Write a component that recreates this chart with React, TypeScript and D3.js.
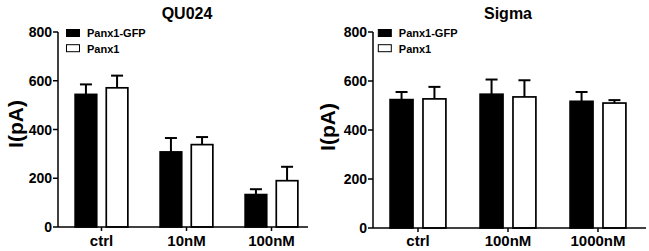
import React from "react";
import * as d3 from "d3";

const quCategories = ["ctrl", "10nM", "100nM"];
const quGfp = [544, 308, 133];
const quGfpErr = [41, 57, 22];
const quPanx = [571, 338, 190];
const quPanxErr = [50, 31, 57];

const sgCategories = ["ctrl", "100nM", "1000nM"];
const sgGfp = [524, 546, 517];
const sgGfpErr = [31, 60, 38];
const sgPanx = [527, 535, 510];
const sgPanxErr = [49, 68, 12];

const yTicks = [0, 200, 400, 600, 800];
const seriesNames = ["Panx1-GFP", "Panx1"];

const FONT = "'Liberation Sans', Arial, sans-serif";

type PanelProps = {
  title: string;
  cats: string[];
  gfp: number[];
  gfpErr: number[];
  panx: number[];
  panxErr: number[];
  axisX: number;
  axisEnd: number;
  bandRange: [number, number];
  y0: number;
  titleX: number;
  labelX: number;
  labelY: number;
  legendX: number;
  innerPad: number;
};

function Panel(p: PanelProps) {
  const y = d3.scaleLinear().domain([0, 800]).range([p.y0, 32]);
  const x0 = d3
    .scaleBand<string>()
    .domain(p.cats)
    .range(p.bandRange)
    .paddingInner(0.38)
    .paddingOuter(0.19);
  const x1 = d3
    .scaleBand<string>()
    .domain(seriesNames)
    .range([0, x0.bandwidth()])
    .paddingInner(p.innerPad)
    .paddingOuter(0);
  const bw = x1.bandwidth();
  const capHalf = 6;
  const series = [
    { name: seriesNames[0], vals: p.gfp, errs: p.gfpErr, fill: "#000" },
    { name: seriesNames[1], vals: p.panx, errs: p.panxErr, fill: "#fff" },
  ];
  return (
    <g>
      <text
        x={p.titleX}
        y={19}
        textAnchor="middle"
        fontFamily={FONT}
        fontWeight="bold"
        fontSize={16}
      >
        {p.title}
      </text>
      <text
        transform={`translate(${p.labelX},${p.labelY}) rotate(-90)`}
        textAnchor="middle"
        fontFamily={FONT}
        fontWeight="bold"
        fontSize={21}
      >
        I(pA)
      </text>
      {/* bars */}
      {series.map((s) =>
        p.cats.map((c, i) => {
          const bx = (x0(c) as number) + (x1(s.name) as number);
          const top = y(s.vals[i]);
          const errTop = y(s.vals[i] + s.errs[i]);
          const cx = bx + bw / 2;
          return (
            <g key={s.name + c}>
              <line x1={cx} x2={cx} y1={top} y2={errTop} stroke="#000" strokeWidth={2} />
              <line
                x1={cx - capHalf}
                x2={cx + capHalf}
                y1={errTop}
                y2={errTop}
                stroke="#000"
                strokeWidth={2}
              />
              <rect
                x={bx}
                y={top}
                width={bw}
                height={p.y0 - top}
                fill={s.fill}
                stroke="#000"
                strokeWidth={1.7}
              />
            </g>
          );
        })
      )}
      {/* y axis */}
      <line x1={p.axisX} x2={p.axisX} y1={y(800)} y2={p.y0} stroke="#000" strokeWidth={1.5} />
      {yTicks.map((t) => (
        <g key={t}>
          <line x1={p.axisX - 5} x2={p.axisX} y1={y(t)} y2={y(t)} stroke="#000" strokeWidth={1.5} />
          <text
            x={p.axisX - 6}
            y={y(t)}
            dy="0.36em"
            textAnchor="end"
            fontFamily={FONT}
            fontWeight="bold"
            fontSize={14}
          >
            {t}
          </text>
        </g>
      ))}
      {/* x axis */}
      <line x1={p.axisX} x2={p.axisEnd} y1={p.y0} y2={p.y0} stroke="#000" strokeWidth={1.5} />
      {p.cats.map((c) => {
        const cx = (x0(c) as number) + x0.bandwidth() / 2;
        return (
          <g key={c}>
            <line x1={cx} x2={cx} y1={p.y0} y2={p.y0 + 4} stroke="#000" strokeWidth={1.5} />
            <text
              x={cx}
              y={245.5}
              textAnchor="middle"
              fontFamily={FONT}
              fontWeight="bold"
              fontSize={15}
            >
              {c}
            </text>
          </g>
        );
      })}
      {/* legend */}
      {series.map((s, i) => (
        <g key={s.name}>
          <rect
            x={p.legendX}
            y={29.5 + i * 15.2}
            width={13}
            height={7}
            fill={s.fill}
            stroke="#000"
            strokeWidth={1}
          />
          <text
            x={p.legendX + 20.5}
            y={37.3 + i * 15.2}
            fontFamily={FONT}
            fontWeight="bold"
            fontSize={11}
          >
            {s.name}
          </text>
        </g>
      ))}
    </g>
  );
}

export default function App() {
  return (
    <svg
      width={649}
      height={251}
      style={{ position: "absolute", left: 0, top: 0, background: "#fff" }}
    >
      <rect x={0} y={0} width={649} height={251} fill="#fff" />
      <Panel
        title="QU024"
        cats={quCategories}
        gfp={quGfp}
        gfpErr={quGfpErr}
        panx={quPanx}
        panxErr={quPanxErr}
        axisX={58}
        axisEnd={308}
        bandRange={[59, 314]}
        y0={227}
        titleX={187}
        labelX={23}
        labelY={124}
        legendX={66.5}
        innerPad={0.307}
      />
      <Panel
        title="Sigma"
        cats={sgCategories}
        gfp={sgGfp}
        gfpErr={sgGfpErr}
        panx={sgPanx}
        panxErr={sgPanxErr}
        axisX={373}
        axisEnd={646}
        bandRange={[373, 643]}
        y0={228}
        titleX={508}
        labelX={335}
        labelY={127}
        legendX={378.3}
        innerPad={0.303}
      />
    </svg>
  );
}
